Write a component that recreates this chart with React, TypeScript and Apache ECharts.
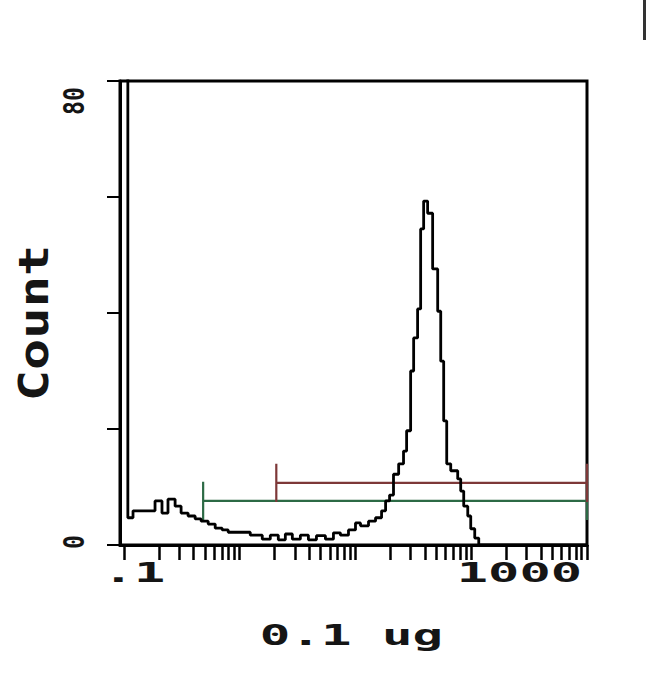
import React, { useEffect, useRef } from "react";
import * as echarts from "echarts";

// Histogram bins: left edge of each channel (0.1 ug scale) and the count held until the next edge
const binStart = [
  0.1, 0.108, 0.1197, 0.1855, 0.213, 0.24, 0.2765, 0.3115, 0.358, 0.412, 0.464, 0.534, 0.614, 0.705,
  0.795, 1.233, 1.566, 1.837, 2.154, 2.477, 2.848, 3.34, 3.92, 4.6, 5.5, 6.45, 7.41, 8.7, 10.0, 11.05,
  12.96, 14.9, 16.8, 18.2, 19.7, 21.3, 23.6, 26.0, 27.65, 29.95, 31.8, 34.4, 36.55, 38.8, 42.0, 46.4,
  51.3, 54.5, 57.8, 61.4, 66.5, 76.4, 81.1, 86.1, 93.3, 99.0, 107.2, 116.1, 1000,
];
const binCount = [
  95, 4.7, 5.9, 7.6, 5.5, 7.9, 6.7, 5.5, 5.0, 4.5, 4.1, 3.6, 2.9, 2.6, 2.2, 1.7, 1.0, 1.7, 0.9, 1.9,
  1.0, 1.7, 0.9, 1.6, 1.0, 2.1, 1.7, 2.6, 3.8, 3.3, 4.1, 4.7, 5.9, 7.6, 8.6, 12.2, 14.0, 16.2, 19.7,
  30.0, 35.7, 40.7, 54.5, 59.3, 57.2, 47.6, 40.3, 31.7, 21.4, 14.0, 12.8, 11.4, 9.3, 6.7, 5.0, 2.8,
  1.2, 0, 0,
];

// Marker gates (M1 green, M2 red)
const gateStart = [0.483, 2.07];
const gateEnd = [1000, 1000];
const gateLevel = [7.6, 10.7];
const gateTickHalf = 3.3;
const gateColors = ["#2c6a45", "#7d3838"];

// Axes
const xMin = 0.0924;
const xMax = 1000;
const xDecades = [0.1, 1, 10, 100];
const xMultipliers = [1, 2, 3, 4, 5, 6, 7, 8, 9];
const xTickLabels = [
  { value: 0.1, text: ".1" },
  { value: 1000, text: "1000" },
];
const yMin = 0;
const yMax = 80;
const yInterval = 20;
const yTickLabels = [
  { value: 80, text: "80" },
  { value: 0, text: "0" },
];
const xTitle = "0.1 ug";
const yTitle = "Count";

const FONT = "DejaVu Sans Mono";

export default function App() {
  const ref = useRef<HTMLDivElement>(null);

  useEffect(() => {
    const chart = echarts.init(ref.current!, null, { renderer: "svg" });

    const xTickValues: number[] = [];
    xDecades.forEach((d) => xMultipliers.forEach((m) => xTickValues.push(+(d * m).toPrecision(3))));
    xTickValues.push(1000);

    const histData = binStart.map((x, i) => [x, binCount[i]]);

    const gateSeries = gateStart.map((s, i) => {
      const e = gateEnd[i];
      const l = gateLevel[i];
      return {
        type: "line",
        name: "M" + (i + 1),
        data: [
          [s, l - gateTickHalf],
          [s, l + gateTickHalf],
          [s, l],
          [e, l],
          [e, l + gateTickHalf],
          [e, l - gateTickHalf],
        ],
        showSymbol: false,
        symbol: "none",
        clip: false,
        lineStyle: { color: gateColors[i], width: 2.2 },
        z: 2,
      };
    });

    chart.setOption({
      animation: false,
      backgroundColor: "#ffffff",
      grid: {
        left: 120,
        right: 63,
        top: 81,
        bottom: 134,
        show: true,
        borderColor: "#000",
        borderWidth: 3,
        backgroundColor: "transparent",
      },
      xAxis: {
        type: "log",
        logBase: 10,
        min: xMin,
        max: xMax,
        axisLine: { show: true, lineStyle: { color: "#000", width: 3 } },
        axisTick: {
          show: true,
          inside: false,
          length: 15,
          customValues: xTickValues,
          lineStyle: { color: "#000", width: 2.5 },
        },
        minorTick: { show: false },
        axisLabel: { show: false },
        splitLine: { show: false },
      },
      yAxis: {
        type: "value",
        min: yMin,
        max: yMax,
        interval: yInterval,
        axisLine: { show: true, lineStyle: { color: "#000", width: 3 } },
        axisTick: { show: true, inside: false, length: 13, lineStyle: { color: "#000", width: 2 } },
        axisLabel: { show: false },
        splitLine: { show: false },
      },
      series: [
        ...gateSeries,
        {
          type: "line",
          name: "Count",
          data: histData,
          step: "end",
          showSymbol: false,
          symbol: "none",
          clip: true,
          lineStyle: { color: "#000", width: 2.8 },
          z: 3,
        },
      ],
    });

    const px = (v: number) => chart.convertToPixel({ xAxisIndex: 0 }, v) as number;
    const py = (v: number) => chart.convertToPixel({ yAxisIndex: 0 }, v) as number;

    const textStyle = (text: string, fontSize: number, align: string) => ({
      text,
      fontFamily: FONT,
      fontWeight: "bold",
      fontSize,
      fill: "#151515",
      align,
      verticalAlign: "middle",
      textAlign: align,
      textVerticalAlign: "middle",
    });

    const left = px(xMin);
    const graphic: any[] = [];
    xTickLabels.forEach((t, i) => {
      const isLast = i === xTickLabels.length - 1;
      graphic.push({
        type: "text",
        x: isLast ? px(t.value) - 5 : px(t.value) + 10,
        y: py(0) + 28,
        scaleX: 2.0,
        style: textStyle(t.text, 26, isLast ? "right" : "center"),
      });
    });
    graphic.push({
      type: "text",
      x: (px(0.1) + px(1000)) / 2 - 4,
      y: py(0) + 90,
      scaleX: 1.75,
      style: textStyle(xTitle, 29, "center"),
    });
    yTickLabels.forEach((t) => {
      graphic.push({
        type: "text",
        x: left - 46,
        y: t.value === yMax ? py(t.value) + 20 : py(t.value) - 3,
        rotation: Math.PI / 2,
        scaleX: 0.8,
        style: textStyle(t.text, 29, "center"),
      });
    });
    graphic.push({
      type: "text",
      x: left - 86,
      y: (py(0) + py(80)) / 2 + 10,
      rotation: Math.PI / 2,
      scaleX: 1.3,
      style: textStyle(yTitle, 40, "center"),
    });
    graphic.push({
      type: "line",
      shape: { x1: 644.5, y1: 0, x2: 644.5, y2: 40 },
      style: { stroke: "#333", lineWidth: 3 },
    });

    chart.setOption({ graphic });

    return () => chart.dispose();
  }, []);

  return (
    <div
      ref={ref}
      style={{ position: "absolute", left: 0, top: 0, width: 650, height: 679, background: "#fff" }}
    />
  );
}
